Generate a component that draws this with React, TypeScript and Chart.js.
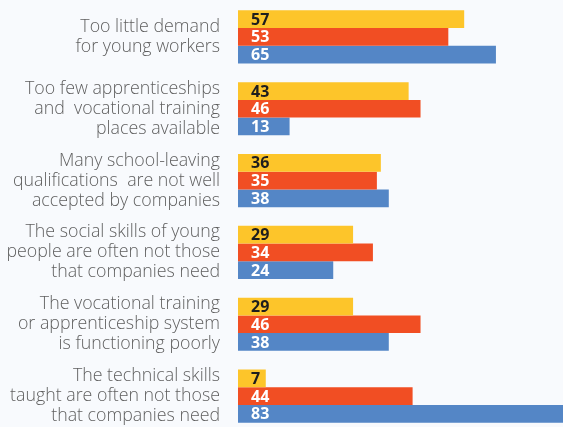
import React, { useEffect, useRef } from "react";
import { Chart, registerables } from "chart.js";

Chart.register(...registerables);

const categories: string[][] = [
  ["Too little demand", "for young workers"],
  ["Too few apprenticeships", "and  vocational training", "places available"],
  ["Many school-leaving", "qualifications  are not well", "accepted by companies"],
  ["The social skills of young", "people are often not those", "that companies need"],
  ["The vocational training", "or apprenticeship system", "is functioning poorly"],
  ["The technical skills", "taught are often not those", "that companies need"],
];

const seriesYellow: number[] = [57, 43, 36, 29, 29, 7];
const seriesOrange: number[] = [53, 46, 35, 34, 46, 44];
const seriesBlue: number[] = [65, 13, 38, 24, 38, 83];

const labelColors: string[] = ["#1e1e1e", "#ffffff", "#ffffff"];

const valueLabels = {
  id: "valueLabels",
  afterDatasetsDraw(chart: any) {
    const ctx = chart.ctx;
    ctx.save();
    ctx.font = "bold 16px 'Open Sans'";
    ctx.textBaseline = "middle";
    ctx.textAlign = "left";
    chart.data.datasets.forEach((ds: any, di: number) => {
      const meta = chart.getDatasetMeta(di);
      meta.data.forEach((el: any, i: number) => {
        ctx.fillStyle = labelColors[di];
        ctx.fillText(String(ds.data[i]), el.base + 13, el.y + 1);
      });
    });
    ctx.restore();
  },
};

export default function App() {
  const ref = useRef<HTMLCanvasElement>(null);
  useEffect(() => {
    if (!ref.current) return;
    const chart = new Chart(ref.current, {
      type: "bar",
      data: {
        labels: categories,
        datasets: [
          { data: seriesYellow, backgroundColor: "#fdc52a" },
          { data: seriesOrange, backgroundColor: "#f14e23" },
          { data: seriesBlue, backgroundColor: "#5486c6" },
        ],
      },
      options: {
        indexAxis: "y",
        responsive: false,
        animation: false,
        layout: { padding: { top: 1, bottom: 0, left: 0, right: 0 } },
        datasets: {
          bar: { categoryPercentage: 0.74, barPercentage: 1.0, borderWidth: 0 },
        },
        plugins: {
          legend: { display: false },
          tooltip: { enabled: false },
        },
        scales: {
          x: {
            display: false,
            min: 0,
            max: 81.9,
            grid: { display: false },
          },
          y: {
            grid: { display: false, drawTicks: false },
            border: { display: false },
            ticks: {
              padding: 18,
              color: "#5f5f5f",
              font: { family: "'Open Sans'", size: 17.8, weight: "300", lineHeight: 1.124 },
            },
            afterFit: (scale: any) => {
              scale.width = 238;
              scale.paddingTop = 0;
              scale.paddingBottom = 0;
            },
          },
        },
      },
      plugins: [valueLabels],
    });
    return () => chart.destroy();
  }, []);
  return (
    <div
      style={{
        position: "fixed",
        left: 0,
        top: 0,
        width: 563,
        height: 427,
        overflow: "hidden",
        background: "#f8fafd",
      }}
    >
      <canvas ref={ref} width={563} height={432} style={{ display: "block" }} />
    </div>
  );
}
